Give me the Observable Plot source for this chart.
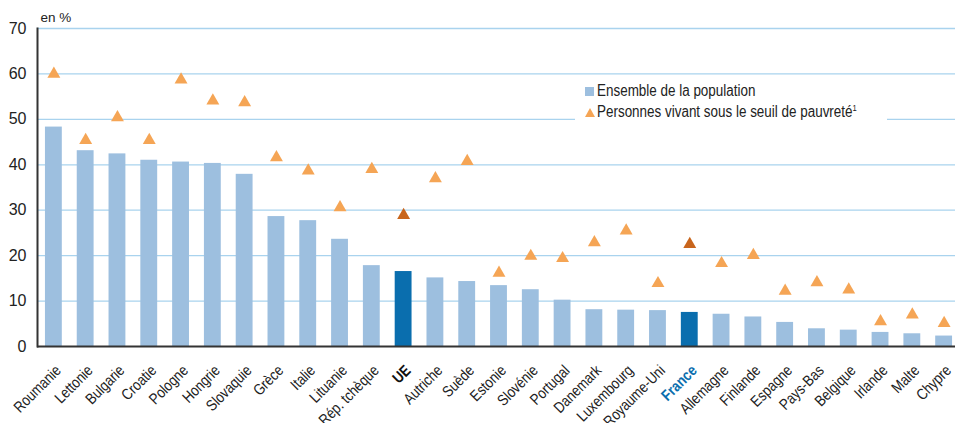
<!DOCTYPE html>
<html><head><meta charset="utf-8">
<script src="https://cdn.jsdelivr.net/npm/d3@7"></script>
<script src="https://cdn.jsdelivr.net/npm/@observablehq/plot@0.6"></script>
<style>
body{margin:0;background:#fff;font-family:"Liberation Sans",Arial,sans-serif;}
#wrap{position:relative;width:955px;height:423px;overflow:hidden}
#legend{position:absolute;left:575px;top:76px;width:312px;height:46px;background:#fff;font-size:16px;color:#222;line-height:20px}
#legend .row{position:absolute;left:10px;white-space:nowrap;height:20px}
#legend .sq{display:inline-block;width:9px;height:9px;background:#9dbfdf;margin-right:3px;vertical-align:0px}
#legend .tri{display:inline-block;width:0;height:0;border-left:5px solid transparent;border-right:5px solid transparent;border-bottom:9px solid #f5a555;margin-right:2px;vertical-align:0px}
#legend .txt{display:inline-block;transform:scaleX(0.84);transform-origin:left center}
#legend sup{font-size:9px;line-height:0;vertical-align:baseline;position:relative;top:-6px}
</style></head>
<body>
<div id="wrap">
<div id="chart"></div>
<div id="legend">
  <div class="row" style="top:5px"><span class="sq"></span><span class="txt">Ensemble de la population</span></div>
  <div class="row" style="top:26px"><span class="tri"></span><span class="txt">Personnes vivant sous le seuil de pauvreté<sup>1</sup></span></div>
</div>
</div>
<script>
const categories = ["Roumanie","Lettonie","Bulgarie","Croatie","Pologne","Hongrie","Slovaquie","Grèce","Italie","Lituanie","Rép. tchèque","UE","Autriche","Suède","Estonie","Slovénie","Portugal","Danemark","Luxembourg","Royaume-Uni","France","Allemagne","Finlande","Espagne","Pays-Bas","Belgique","Irlande","Malte","Chypre"];
const population = [48.3,43.1,42.4,41.0,40.6,40.3,37.9,28.6,27.7,23.6,17.8,16.5,15.1,14.3,13.4,12.5,10.2,8.1,8.0,7.9,7.5,7.1,6.5,5.3,3.9,3.6,3.1,2.8,2.3];
const pauvrete = [60.0,45.4,50.4,45.4,58.7,54.1,53.7,41.6,38.7,30.6,39.0,28.9,37.0,40.8,16.2,19.9,19.4,22.9,25.5,13.9,22.5,18.3,20.1,12.2,14.1,12.5,5.5,7.0,5.1];
const yTicks = [0,10,20,30,40,50,60,70];
const highlight = ["UE","France"];

const data = categories.map((c,i)=>({pays:c, pop:population[i], pauv:pauvrete[i]}));
const font = '"Liberation Sans",Arial,sans-serif';
const labelOpts = {x:d=>d, frameAnchor:"bottom", rotate:-45, textAnchor:"end", lineAnchor:"bottom", dx:8, dy:25, fontSize:15.5};

const chart = Plot.plot({
  width:955, height:423, marginTop:28, marginBottom:77, marginLeft:37, marginRight:0,
  style:{fontFamily:font, fontSize:"15px", color:"#222", background:"transparent"},
  x:{domain:categories, range:[37,960], paddingInner:0.47, paddingOuter:0.25, round:false, axis:null},
  y:{domain:[0,70], axis:null},
  marks:[
    Plot.ruleY(yTicks.filter(d=>d>0), {stroke:"#a9d3ee", strokeWidth:1.3}),
    Plot.barY(data, {x:"pays", y:"pop", fill:d=>highlight.includes(d.pays)?"#0a6eae":"#9dbfdf"}),
    Plot.dot(data, {x:"pays", y:"pauv", symbol:"triangle", r:4.8, stroke:null, fill:d=>highlight.includes(d.pays)?"#c8651c":"#f5a555"}),
    Plot.ruleY([0], {stroke:"#333", strokeWidth:2}),
    Plot.frame({anchor:"left", stroke:"#333", strokeWidth:2}),
    Plot.axisY({ticks:yTicks, tickSize:0, tickPadding:11, label:null, fontSize:16, fill:"#222"}),
    Plot.text(["en %"], {frameAnchor:"top-left", dx:3, dy:-7, textAnchor:"start", lineAnchor:"bottom", fontSize:13.5, fill:"#222"}),
    Plot.text(categories.filter(d=>!highlight.includes(d)), {...labelOpts, fill:"#222", className:"xlab"}),
    Plot.text(["UE"], {...labelOpts, fill:"#111", fontWeight:"bold", className:"xlab"}),
    Plot.text(["France"], {...labelOpts, fill:"#0a6eae", fontWeight:"bold", className:"xlab"})
  ]
});
// condensed look for the rotated category labels
d3.select(chart).selectAll("g.xlab text").attr("transform", function(){ return this.getAttribute("transform") + " scale(0.84,1)"; });
document.getElementById("chart").appendChild(chart);
</script>
</body></html>
